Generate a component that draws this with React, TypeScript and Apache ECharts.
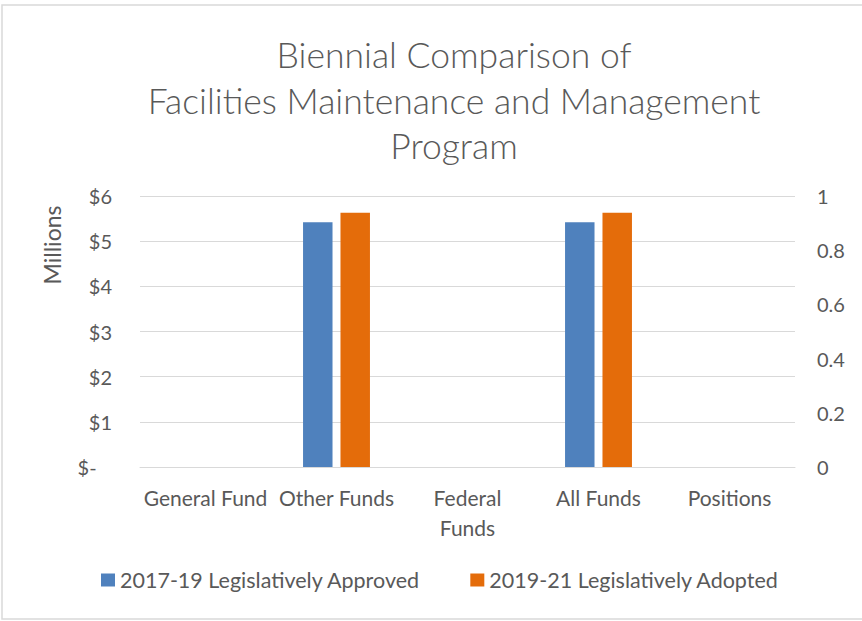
import React, { useEffect, useRef } from "react";
import * as echarts from "echarts";

const categories = ["General Fund", "Other Funds", "Federal Funds", "All Funds", "Positions"];
const axisLabels = ["General Fund", "Other Funds", "Federal\nFunds", "All Funds", "Positions"];
const approved2017 = [0, 5.42, 0, 5.42, 0];
const adopted2019 = [0, 5.63, 0, 5.63, 0];
const seriesNames = ["2017-19 Legislatively Approved", "2019-21 Legislatively Adopted"];
const titleText = "Biennial Comparison of\nFacilities Maintenance and Management\nProgram";
const axisTitle = "Millions";

const FONT = "Lato";
const TXT = "#595959";

export default function App() {
  const ref = useRef<HTMLDivElement>(null);
  useEffect(() => {
    const chart = echarts.init(ref.current!, null, { renderer: "svg" });
    chart.setOption({
      animation: false,
      backgroundColor: "#ffffff",
      textStyle: { fontFamily: FONT },
      graphic: [
        {
          type: "rect",
          shape: { x: 2, y: 5, width: 880, height: 614 },
          style: { fill: "none", stroke: "#d9d9d9", lineWidth: 1.5 },
          silent: true,
        },
        {
          type: "text",
          x: 52,
          y: 245,
          rotation: Math.PI / 2,
          style: {
            text: axisTitle,
            fontFamily: FONT,
            fontSize: 23,
            fill: TXT,
            align: "center",
            verticalAlign: "middle",
          },
          silent: true,
        },
      ],
      title: {
        text: titleText,
        left: 449,
        top: 27,
        textAlign: "center",
        textStyle: {
          fontFamily: FONT,
          fontWeight: 300,
          fontSize: 35.5,
          lineHeight: 45.5,
          color: TXT,
        },
      },
      legend: {
        left: 96,
        top: 564,
        itemWidth: 14,
        itemHeight: 13,
        itemGap: 50,
        icon: "rect",
        textStyle: { fontFamily: FONT, fontSize: 21.5, color: TXT },
        data: seriesNames,
      },
      grid: { left: 140, right: 67, top: 196, bottom: 154 },
      xAxis: {
        type: "category",
        data: categories,
        axisLine: { lineStyle: { color: "#d9d9d9", width: 1 } },
        axisTick: { show: false },
        axisLabel: {
          interval: 0,
          margin: 15,
          fontFamily: FONT,
          fontSize: 21,
          lineHeight: 30,
          color: TXT,
          formatter: (_v: string, i: number) => axisLabels[i],
        },
      },
      yAxis: [
        {
          type: "value",
          min: 0,
          max: 6,
          interval: 1,
          axisLine: { show: false },
          axisTick: { show: false },
          splitLine: { lineStyle: { color: "#d9d9d9", width: 1 } },
          axisLabel: {
            margin: 28,
            fontFamily: FONT,
            fontSize: 20,
            color: TXT,
            formatter: (v: number) => (v === 0 ? "$-   " : "$" + v),
          },
        },
        {
          type: "value",
          min: 0,
          max: 1,
          interval: 0.2,
          position: "right",
          axisLine: { show: false },
          axisTick: { show: false },
          splitLine: { show: false },
          axisLabel: {
            margin: 22,
            align: "left",
            fontFamily: FONT,
            fontSize: 20,
            color: TXT,
          },
        },
      ],
      series: [
        {
          name: seriesNames[0],
          type: "bar",
          data: approved2017,
          barWidth: "22.5%",
          barGap: "27%",
          itemStyle: { color: "#4f81bd" },
        },
        {
          name: seriesNames[1],
          type: "bar",
          data: adopted2019,
          barWidth: "22.5%",
          barGap: "27%",
          itemStyle: { color: "#e46c0a" },
        },
      ],
    });
    return () => chart.dispose();
  }, []);
  return (
    <div
      ref={ref}
      style={{ position: "fixed", left: 0, top: 0, width: 862, height: 621 }}
    />
  );
}
